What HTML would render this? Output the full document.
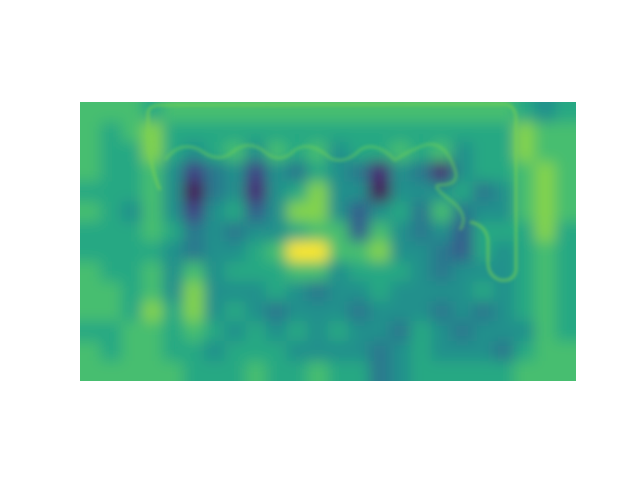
<!DOCTYPE html>
<html><head><meta charset="utf-8">
<style>
html,body{margin:0;padding:0;background:#fff;width:640px;height:480px;overflow:hidden;font-family:"Liberation Sans",sans-serif;}
</style></head>
<body>
<svg id="chart" width="640" height="480" xmlns="http://www.w3.org/2000/svg">
<defs>
<clipPath id="clip"><rect x="80" y="102" width="496" height="279"/></clipPath>
<filter id="blur" x="-10%" y="-10%" width="120%" height="120%"><feGaussianBlur stdDeviation="7"/></filter>
<filter id="blur2"><feGaussianBlur stdDeviation="1.5"/></filter>
</defs>
<g clip-path="url(#clip)">
<g id="cells" filter="url(#blur)"></g>
<path d="M160 190 C150 170 148 140 148 112 Q150 105 160 105 L505 104 Q516 106 516 120 L516 270 Q514 282 500 280 Q488 276 488 262 L488 240 Q486 225 470 222" fill="none" stroke="#7ad151" stroke-width="3" opacity="0.6" filter="url(#blur2)"/>
<path d="M165 160 Q180 140 200 150 Q220 165 235 150 Q250 140 265 152 Q280 165 295 150 Q310 140 330 158 Q345 165 360 150 Q375 140 395 160 Q410 150 425 145 Q445 140 455 170 Q460 185 440 185 Q430 185 450 200 Q470 215 460 230" fill="none" stroke="#6ece58" stroke-width="3" opacity="0.5" filter="url(#blur2)"/>
</g>
</svg>
<script>
const rowCount = 14;
const colCount = 24;
const values = [
[7,7,7,6,7,7,7,7,7,7,7,7,7,7,7,7,7,7,7,7,7,6,5,6],
[7,6,7,8,6,6,6,6,6,6,6,6,6,6,6,6,6,6,6,6,6,8,7,7],
[7,6,6,8,6,5,6,7,5,7,6,7,5,6,6,7,6,7,5,6,6,8,7,7],
[7,6,6,7,5,2,4,5,2,5,4,6,5,4,1,5,4,1,5,6,6,7,8,7],
[6,6,6,7,5,0,4,5,1,5,6,8,5,5,0,5,5,5,6,4,5,7,8,7],
[7,6,5,7,5,2,5,6,3,5,8,8,5,3,5,6,4,7,4,5,5,7,8,7],
[6,6,6,7,6,4,5,4,5,5,6,7,7,3,7,5,4,5,3,6,6,6,8,6],
[6,6,6,6,5,4,5,5,6,7,9,9,7,7,8,5,5,4,3,6,5,6,7,6],
[7,6,6,7,5,7,5,6,6,6,7,7,5,6,6,6,5,4,5,5,5,6,7,6],
[7,7,6,7,5,8,5,5,5,6,5,4,5,5,6,5,5,5,5,6,5,6,7,6],
[7,7,6,8,6,8,5,6,5,4,5,5,5,4,5,5,5,4,5,4,5,6,7,6],
[6,6,7,7,6,7,6,5,6,5,6,5,6,5,5,4,6,5,4,5,5,5,7,6],
[7,6,7,7,6,6,5,6,6,6,5,5,5,5,4,5,6,5,5,5,4,6,7,7],
[7,7,7,7,7,6,6,6,7,6,6,7,6,6,4,5,6,6,6,6,6,7,7,7]
];
const viridis = ["#440154","#482878","#3e4989","#31688e","#26828e","#1f9e89","#35b779","#6ece58","#b5de2b","#fde725"];
const x0=80,y0=102,W=496,H=279;
function xs(i){return x0+i*W/colCount;}
function ys(j){return y0+j*H/rowCount;}
function hex(h){return [1,3,5].map(k=>parseInt(h.substr(k,2),16));}
function color(v){
  let t = v<=7 ? v*0.9 : (v<=8 ? 6.3+(v-7)*1.0 : 7.3+(v-8)*1.7);
  t=Math.max(0,Math.min(viridis.length-1,t));
  const k=Math.min(viridis.length-2,Math.floor(t)),f=t-k;
  const a=hex(viridis[k]),b=hex(viridis[k+1]);
  return "rgb("+a.map((c,n)=>Math.round(c+(b[n]-c)*f)).join(",")+")";
}
const g=document.getElementById("cells");
const NS="http://www.w3.org/2000/svg";
for(let j=0;j<rowCount;j++){
  for(let i=0;i<colCount;i++){
    const r=document.createElementNS(NS,"rect");
    let x=xs(i),y=ys(j),w=W/colCount+0.5,h=H/rowCount+0.5;
    if(i===0){x-=25;w+=25;}
    if(i===colCount-1){w+=25;}
    if(j===0){y-=25;h+=25;}
    if(j===rowCount-1){h+=25;}
    r.setAttribute("x",x);r.setAttribute("y",y);
    r.setAttribute("width",w);r.setAttribute("height",h);
    r.setAttribute("fill",color(values[j][i]));
    
    
    g.appendChild(r);
  }
}
</script>
</body></html>
